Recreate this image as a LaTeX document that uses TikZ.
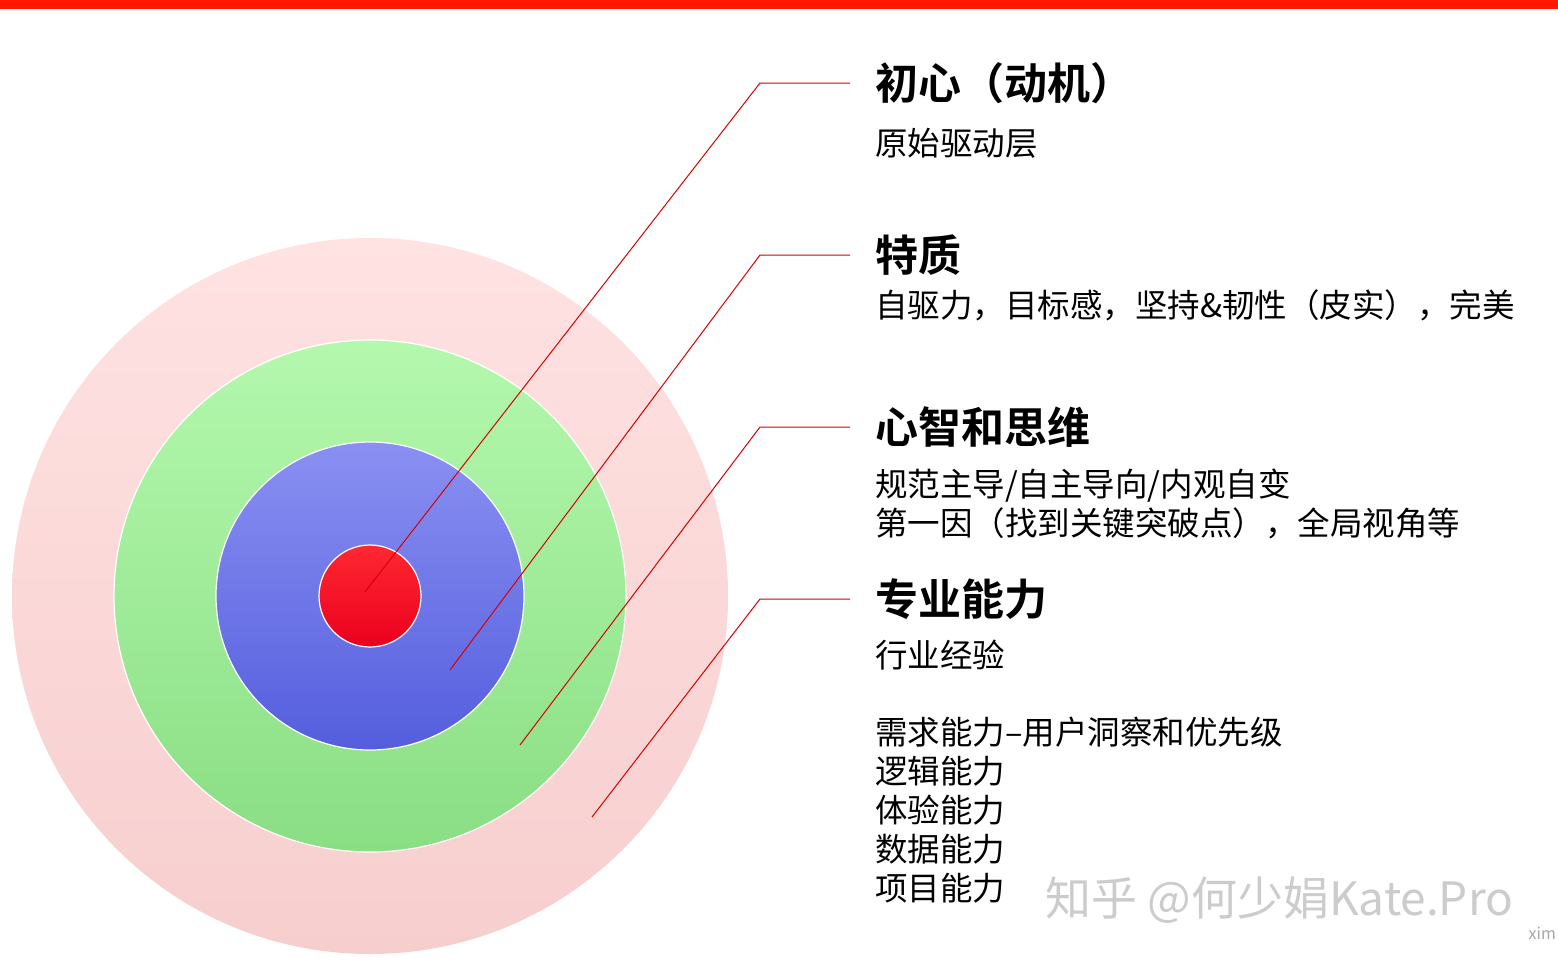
\documentclass[tikz,border=0pt]{standalone}
\usepackage{fontspec}
\newfontfamily\cjk{Noto Sans CJK SC}
\newfontfamily\cjkb{Noto Sans CJK SC Bold}
\begin{document}
\begin{tikzpicture}[x=1pt,y=-1pt,
  ring/.style={draw=white,line width=1.2pt},
  lead/.style={draw=red!85!black,line width=1pt},
  head/.style={anchor=west,font=\cjkb\fontsize{43}{48}\selectfont,inner sep=0},
  sub/.style={anchor=north west,font=\cjk\fontsize{32.5}{39}\selectfont,inner sep=0,align=left}]
\useasboundingbox (0,0) rectangle (1558,962);
\fill[white] (0,0) rectangle (1558,962);
\fill[red!80!orange] (0,0) rectangle (1558,9);
\shade[top color={rgb,255:red,255;green,226;blue,226},bottom color={rgb,255:red,247;green,206;blue,206}] (370,596) circle (358);
\shade[ring,top color={rgb,255:red,180;green,248;blue,174},bottom color={rgb,255:red,138;green,222;blue,132}] (370,596) circle (256);
\shade[ring,top color={rgb,255:red,138;green,144;blue,242},bottom color={rgb,255:red,84;green,94;blue,221}] (370,596) circle (154);
\shade[ring,top color={rgb,255:red,255;green,40;blue,50},bottom color={rgb,255:red,235;green,0;blue,30}] (370,596) circle (51);
\coordinate (e1) at (365,592); \coordinate (e2) at (450,670);
\coordinate (e3) at (520,745); \coordinate (e4) at (592,817);
\coordinate (k1) at (760,83); \coordinate (k2) at (760,255);
\coordinate (k3) at (760,427); \coordinate (k4) at (760,599);
\node[head] (h1) at (875,83) {初心（动机）};
\node[head] (h2) at (875,255) {特质};
\node[head] (h3) at (875,427) {心智和思维};
\node[head] (h4) at (875,599) {专业能力};
\draw[lead] (e1) -- (k1) -- (850,83);
\draw[lead] (e2) -- (k2) -- (850,255);
\draw[lead] (e3) -- (k3) -- (850,427);
\draw[lead] (e4) -- (k4) -- (850,599);
\node[sub] (s1) at (875,128) {原始驱动层};
\node[sub] (s2) at (875,289) {自驱力，目标感，坚持\&韧性（皮实），完美};
\node[sub] (s3) at (875,469) {规范主导/自主导向/内观自变\\第一因（找到关键突破点），全局视角等};
\node[sub] (s4) at (875,640) {行业经验};
\node[sub] (s5) at (875,717) {需求能力–用户洞察和优先级\\逻辑能力\\体验能力\\数据能力\\项目能力};
\node[anchor=west,font=\cjk\fontsize{46}{50}\selectfont,text=gray!40,inner sep=0] (wm) at (1045,900) {知乎 @何少娟Kate.Pro};
\node[anchor=east,font=\cjk\fontsize{16}{18}\selectfont,text=gray!70,inner sep=0] (xm) at (1556,933) {xim};
\end{tikzpicture}
\end{document}
